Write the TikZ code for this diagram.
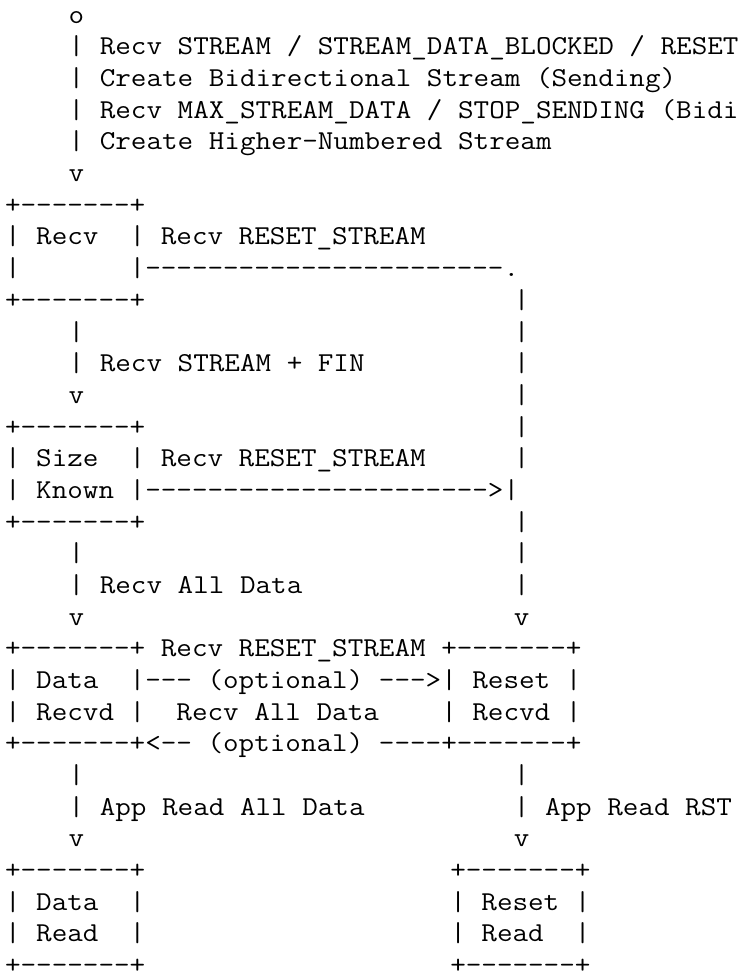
\documentclass[tikz,border=0pt]{standalone}
\usepackage{fontspec}
\usepackage{graphicx}
\newcommand{\asc}[1]{\scalebox{1.108}[1]{#1}}
\begin{document}
\begin{tikzpicture}[
  ascii/.style={anchor=base west, inner sep=0pt, outer sep=0pt,
    font=\ttfamily\fontsize{27.3pt}{31.67pt}\selectfont, text=black}]
\fill[white] (0pt,0pt) rectangle (739pt,-972pt);
\useasboundingbox (0pt,0pt) rectangle (739pt,-972pt);
\clip (0pt,0pt) rectangle (739pt,-972pt);
\begin{scope}[shift={(5.07pt,-23.3pt)}, x=15.9pt, y=-31.67pt]
% initial state and entry labels
\node[ascii] (start) at (4,0) {\asc{o}};
\node[ascii] (e1) at (4,1) {\asc{| Recv STREAM / STREAM\_DATA\_BLOCKED / RESET\_STREAM}};
\node[ascii] (e2) at (4,2) {\asc{| Create Bidirectional Stream (Sending)}};
\node[ascii] (e3) at (4,3) {\asc{| Recv MAX\_STREAM\_DATA / STOP\_SENDING (Bidirectional)}};
\node[ascii] (e4) at (4,4) {\asc{| Create Higher-Numbered Stream}};
\node[ascii] (e5) at (4,5) {\asc{v}};
% Recv box
\node[ascii] (recvA) at (0,6) {\asc{+-------+}};
\node[ascii] (recvB) at (0,7) {\asc{| Recv~~| Recv RESET\_STREAM}};
\node[ascii] (recvC) at (0,8) {\asc{|~~~~~~~|-----------------------.}};
\node[ascii] (recvD) at (0,9) {\asc{+-------+}};
\node[ascii] (r9) at (32,9) {\asc{|}};
\node[ascii] (a10) at (4,10) {\asc{|}};
\node[ascii] (r10) at (32,10) {\asc{|}};
\node[ascii] (a11) at (4,11) {\asc{| Recv STREAM + FIN}};
\node[ascii] (r11) at (32,11) {\asc{|}};
\node[ascii] (a12) at (4,12) {\asc{v}};
\node[ascii] (r12) at (32,12) {\asc{|}};
% Size Known box
\node[ascii] (sizeA) at (0,13) {\asc{+-------+}};
\node[ascii] (r13) at (32,13) {\asc{|}};
\node[ascii] (sizeB) at (0,14) {\asc{| Size~~| Recv RESET\_STREAM}};
\node[ascii] (r14) at (32,14) {\asc{|}};
\node[ascii] (sizeC) at (0,15) {\asc{| Known |---------------------->|}};
\node[ascii] (sizeD) at (0,16) {\asc{+-------+}};
\node[ascii] (r16) at (32,16) {\asc{|}};
\node[ascii] (a17) at (4,17) {\asc{|}};
\node[ascii] (r17) at (32,17) {\asc{|}};
\node[ascii] (a18) at (4,18) {\asc{| Recv All Data}};
\node[ascii] (r18) at (32,18) {\asc{|}};
\node[ascii] (a19) at (4,19) {\asc{v}};
\node[ascii] (r19) at (32,19) {\asc{v}};
% Data Recvd / Reset Recvd
\node[ascii] (drA) at (0,20) {\asc{+-------+ Recv RESET\_STREAM +-------+}};
\node[ascii] (drB) at (0,21) {\asc{| Data~~|--- (optional) --->| Reset |}};
\node[ascii] (drC) at (0,22) {\asc{| Recvd |~~Recv All Data~~~~| Recvd |}};
\node[ascii] (drD) at (0,23) {\asc{+-------+<-- (optional) ----+-------+}};
\node[ascii] (a24) at (4,24) {\asc{|}};
\node[ascii] (r24) at (32,24) {\asc{|}};
\node[ascii] (a25) at (4,25) {\asc{| App Read All Data}};
\node[ascii] (r25) at (32,25) {\asc{| App Read RST}};
\node[ascii] (a26) at (4,26) {\asc{v}};
\node[ascii] (r26) at (32,26) {\asc{v}};
% Data Read / Reset Read
\node[ascii] (dA) at (0,27) {\asc{+-------+}};
\node[ascii] (rA) at (28,27) {\asc{+-------+}};
\node[ascii] (dB) at (0,28) {\asc{| Data~~|}};
\node[ascii] (rB) at (28,28) {\asc{| Reset |}};
\node[ascii] (dC) at (0,29) {\asc{| Read~~|}};
\node[ascii] (rC) at (28,29) {\asc{| Read~~|}};
\node[ascii] (dD) at (0,30) {\asc{+-------+}};
\node[ascii] (rD) at (28,30) {\asc{+-------+}};
\end{scope}
\end{tikzpicture}
\end{document}
